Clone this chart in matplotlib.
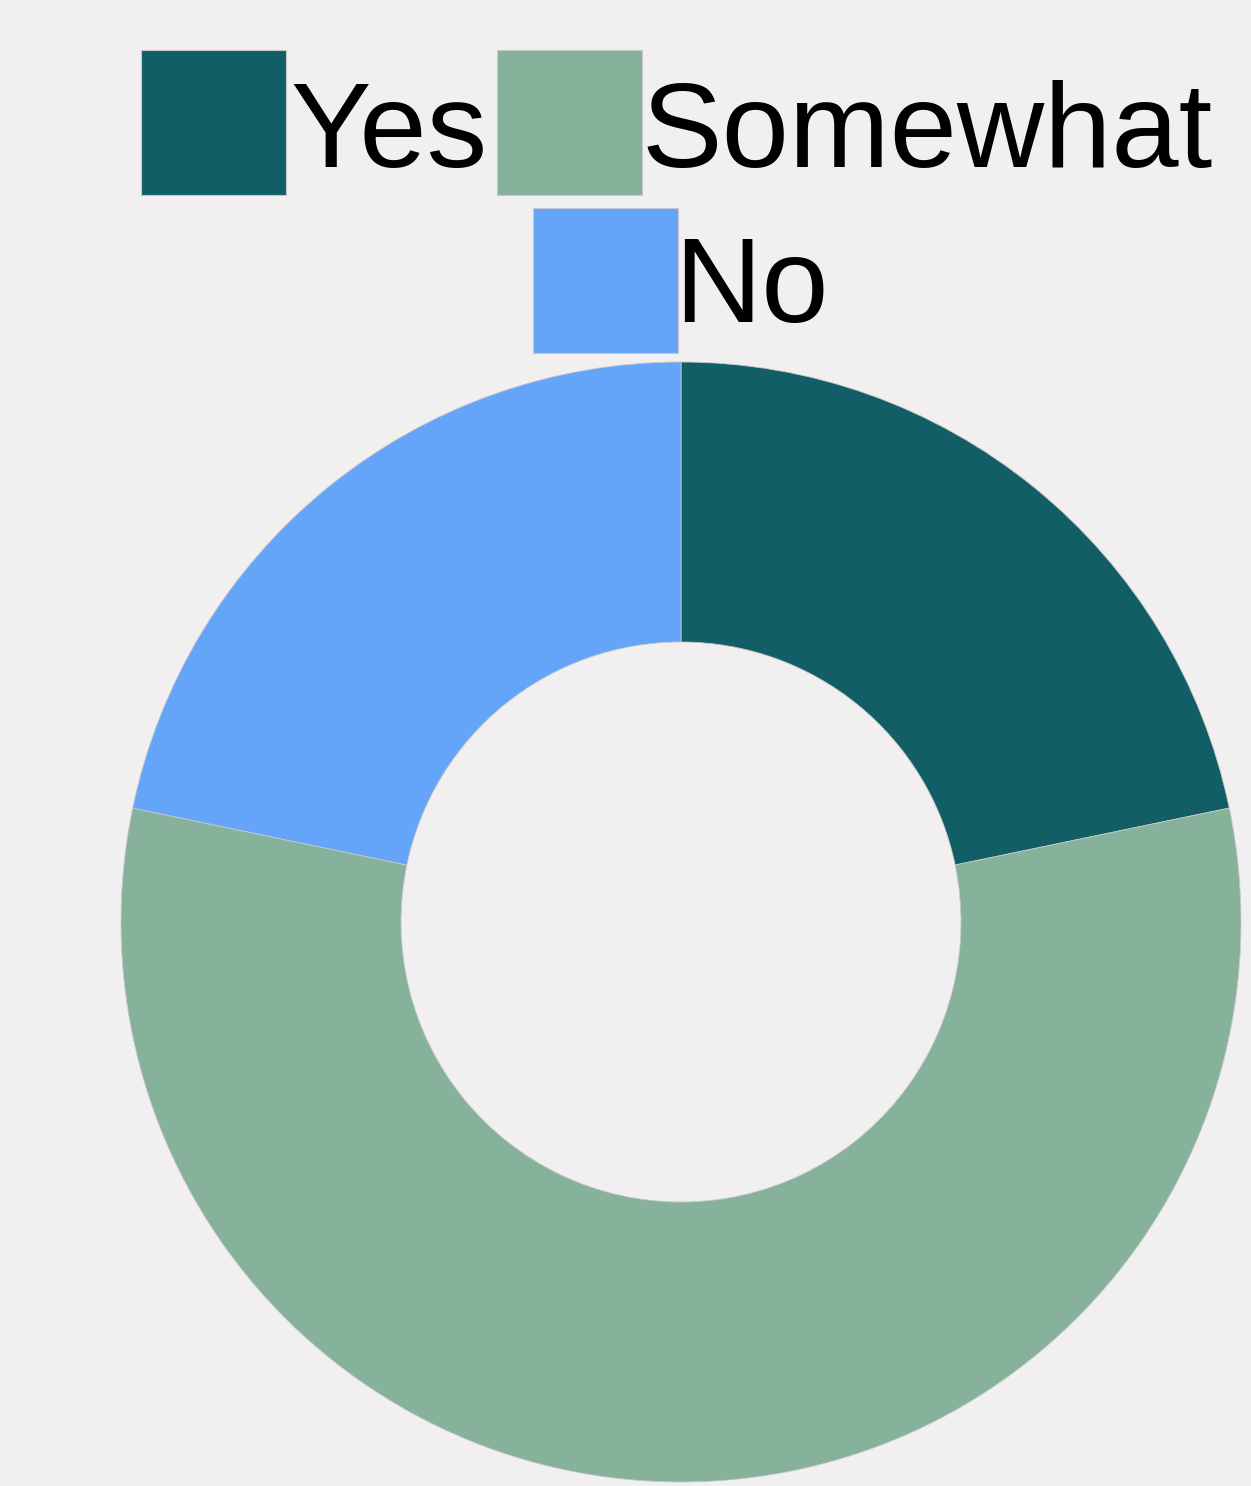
import matplotlib.pyplot as plt
from matplotlib.patches import Rectangle

# data
labels = ['Yes', 'Somewhat', 'No']
values = [5, 13, 5]
colors = ['#125e66', '#86b19b', '#64a5f9']

W, H = 1251, 1486
bg = '#f2eff0'

fig = plt.figure(figsize=(W / 100, H / 100), dpi=100)
fig.patch.set_facecolor(bg)

# donut axes, center (681, 922) px, outer radius 560 px
cx, cy, r = 681, 922, 560
ax = fig.add_axes([(cx - r) / W, (H - cy - r) / H, 2 * r / W, 2 * r / H])
ax.set_facecolor(bg)
ax.pie(values, colors=colors, startangle=90, counterclock=False, radius=1,
       wedgeprops=dict(width=0.5, edgecolor='#c8c8c8', linewidth=0.6))
ax.set_xlim(-1, 1)
ax.set_ylim(-1, 1)
ax.set_aspect('equal')
ax.axis('off')

# legend drawn by hand (flow layout, two rows)
box = 145
# (box left, box top, text x, baseline) in px from top-left
spots = [(141, 50, 290, 167), (497, 50, 642, 167), (533, 208, 674, 322)]
for lab, col, (bx, by, tx, bl) in zip(labels, colors, spots):
    fig.patches.append(Rectangle((bx / W, (H - by - box) / H), box / W, box / H,
                                 transform=fig.transFigure, facecolor=col,
                                 edgecolor='#c8c8c8', linewidth=0.8))
    fig.text(tx / W, (H - bl) / H, lab, fontsize=87,
             family='Liberation Sans', color='black', va='baseline', ha='left')

fig.savefig('out.png', dpi=100, facecolor=bg)
